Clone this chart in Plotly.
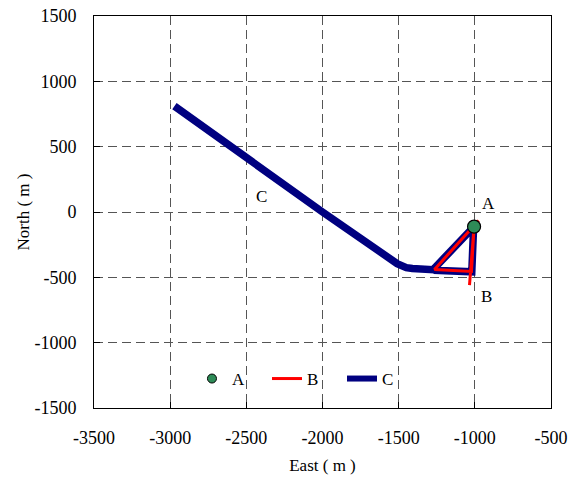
import plotly.graph_objects as go

# Point A
a_east = [-1005]
a_north = [-112]

# Path B (red)
b_east = [-975, -1265, -1022, -1005, -1035]
b_north = [-65, -440, -455, -112, -560]

# Path C (navy)
c_east = [-2972, -2500, -2000, -1510, -1480, -1450, -1410, -1340, -1275, -1008, -1020, -1270]
c_north = [810, 415, 0, -395, -414, -426, -433, -438, -442, -115, -458, -445]

# Labels
lab_text = ["A", "B", "C"]
lab_east = [-910, -925, -2400]
lab_north = [62, -646, 118]

x_ticks = [-3500, -3000, -2500, -2000, -1500, -1000, -500]
x_tick_text = ["-3500", "-3000", "-2500", "-2000", "-1500", "-1000", "-500"]
y_ticks = [-1500, -1000, -500, 0, 500, 1000, 1500]
y_tick_text = ["-1500", "-1000", "-500", "0", "500", "1000", "1500"]

FONT = "Liberation Serif"
fig = go.Figure()

fig.add_trace(go.Scatter(x=c_east, y=c_north, mode="lines",
                         line=dict(color="#000080", width=7.5), showlegend=False))
fig.add_trace(go.Scatter(x=b_east, y=b_north, mode="lines",
                         line=dict(color="#FF0000", width=3), showlegend=False))
fig.add_trace(go.Scatter(x=a_east, y=a_north, mode="markers",
                         marker=dict(color="#2E8B57", size=13, line=dict(color="black", width=1.2)),
                         showlegend=False))

fig.add_trace(go.Scatter(x=[None], y=[None], mode="markers", name="A",
                         marker=dict(color="#2E8B57", size=9, line=dict(color="black", width=1))))
fig.add_trace(go.Scatter(x=[None], y=[None], mode="lines", name="B",
                         line=dict(color="#FF0000", width=3)))
fig.add_trace(go.Scatter(x=[None], y=[None], mode="lines", name="C",
                         line=dict(color="#000080", width=6)))

for t, xx, yy in zip(lab_text, lab_east, lab_north):
    fig.add_annotation(x=xx, y=yy, text=t, showarrow=False,
                       font=dict(family=FONT, size=17, color="black"))

axis_common = dict(showline=True, linecolor="black", linewidth=1, mirror=True,
                   ticks="inside", ticklen=6, tickcolor="black", automargin=False,
                   ticklabelstandoff=13,
                   showgrid=True, gridcolor="#555555", griddash="9px,5px", gridwidth=1,
                   zeroline=False, tickfont=dict(family=FONT, size=18, color="black"))

fig.update_xaxes(range=[-3500, -500], tickvals=x_ticks, ticktext=x_tick_text,
                 title=dict(text="East ( m )", font=dict(family=FONT, size=17, color="black"), standoff=12),
                 **axis_common)
fig.update_yaxes(range=[-1500, 1500], tickvals=y_ticks, ticktext=y_tick_text,
                 title=dict(text="North ( m )", font=dict(family=FONT, size=17, color="black"), standoff=0),
                 **axis_common)

fig.update_layout(
    width=577, height=477,
    margin=dict(l=94, r=26, t=16, b=69, autoexpand=False),
    plot_bgcolor="white", paper_bgcolor="white",
    font=dict(family=FONT, size=17, color="black"),
    legend=dict(orientation="h", x=0.2144, y=0.074, xanchor="left", yanchor="middle",
                entrywidth=30, entrywidthmode="pixels",
                bgcolor="rgba(0,0,0,0)", font=dict(family=FONT, size=17)),
)

fig.write_html("out.html", config={"displayModeBar": False},
               post_script="document.body.style.margin='0';document.body.style.padding='0';")
